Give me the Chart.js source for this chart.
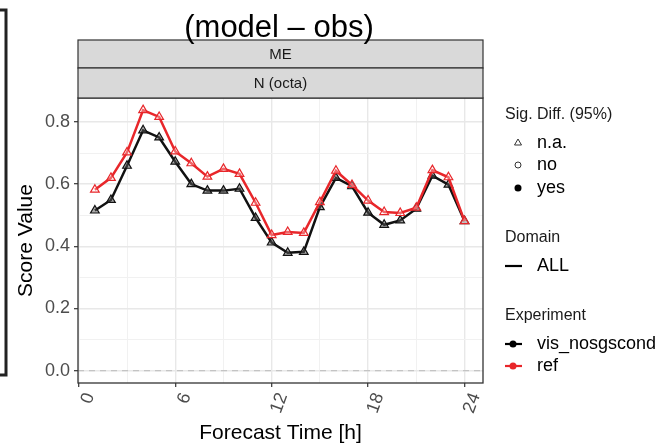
<!DOCTYPE html>
<html lang="en">
<head>
  <meta charset="UTF-8" />
  <title>ME N (octa) - model minus obs</title>
  <script src="https://cdn.jsdelivr.net/npm/chart.js"></script>
  <style>
    html, body { margin: 0; padding: 0; background: #fff; }
    #wrap { width: 661px; height: 446px; position: relative; }
  </style>
</head>
<body>
  <div id="wrap">
    <canvas id="scoreChart" width="661" height="446"></canvas>
  </div>

  <script>
    // forecast hours and scores
    const hours = [1, 2, 3, 4, 5, 6, 7, 8, 9, 10, 11, 12, 13, 14, 15, 16, 17, 18, 19, 20, 21, 22, 23, 24];
    const visNosgscond = [0.515, 0.549, 0.659, 0.773, 0.750, 0.672, 0.600, 0.579, 0.579, 0.585, 0.491, 0.412,
                          0.379, 0.382, 0.526, 0.620, 0.593, 0.508, 0.469, 0.483, 0.521, 0.627, 0.598, 0.481];
    const ref = [0.582, 0.620, 0.702, 0.838, 0.816, 0.705, 0.667, 0.624, 0.649, 0.633, 0.540, 0.436,
                 0.446, 0.443, 0.542, 0.643, 0.597, 0.547, 0.510, 0.507, 0.524, 0.645, 0.622, 0.481];

    const xTicks = [0, 3, 6, 9, 12, 15, 18, 21, 24];
    const xLabelTicks = [0, 6, 12, 18, 24];
    const yTicks = [0, 0.1, 0.2, 0.3, 0.4, 0.5, 0.6, 0.7, 0.8];
    const yLabelTicks = [0, 0.2, 0.4, 0.6, 0.8];

    const FONT = '"Liberation Sans", Arial, Helvetica, sans-serif';
    Chart.defaults.font.family = FONT;

    const isMajorX = v => xLabelTicks.includes(v);
    const isMajorY = v => yLabelTicks.some(t => Math.abs(t - v) < 1e-6);

    const decor = {
      id: 'decor',
      beforeDatasetsDraw(chart) {
        const { ctx, chartArea: ca, scales } = chart;
        const y0 = scales.y.getPixelForValue(0);
        ctx.save();
        ctx.strokeStyle = '#c4c4c4';
        ctx.lineWidth = 1.3;
        ctx.setLineDash([6, 5]);
        ctx.beginPath();
        ctx.moveTo(ca.left, y0);
        ctx.lineTo(ca.right, y0);
        ctx.stroke();
        ctx.restore();
      },
      afterDraw(chart) {
        const { ctx, chartArea: ca } = chart;
        ctx.save();

        // panel border
        ctx.strokeStyle = '#333';
        ctx.lineWidth = 1.3;
        ctx.strokeRect(ca.left, ca.top, ca.right - ca.left, ca.bottom - ca.top);

        // facet strips
        const strips = [['ME', 40, 68], ['N (octa)', 68, ca.top]];
        strips.forEach(([txt, t, b]) => {
          ctx.fillStyle = '#d9d9d9';
          ctx.fillRect(ca.left, t, ca.right - ca.left, b - t);
          ctx.strokeStyle = '#333';
          ctx.lineWidth = 1.2;
          ctx.strokeRect(ca.left, t, ca.right - ca.left, b - t);
          ctx.fillStyle = '#1a1a1a';
          ctx.font = '15px ' + FONT;
          ctx.textAlign = 'center';
          ctx.textBaseline = 'middle';
          ctx.fillText(txt, (ca.left + ca.right) / 2, (t + b) / 2 + 1);
        });

        // title
        ctx.fillStyle = '#000';
        ctx.font = '31px ' + FONT;
        ctx.textAlign = 'center';
        ctx.textBaseline = 'middle';
        ctx.fillText('(model \u2013 obs)', 279, 28);

        // frame edge of the neighbouring panel
        ctx.strokeStyle = '#222';
        ctx.lineWidth = 3;
        ctx.strokeRect(-10, 10, 16, 365);

        // legend
        const lx = 505, sx = 518, tx = 537;
        ctx.textAlign = 'left';
        ctx.fillStyle = '#1a1a1a';
        ctx.font = '16px ' + FONT;
        ctx.fillText('Sig. Diff. (95%)', lx, 115);
        ctx.fillText('Domain', lx, 238);
        ctx.fillText('Experiment', lx, 316);

        ctx.font = '18px ' + FONT;
        ctx.fillStyle = '#000';
        ctx.fillText('n.a.', tx, 143);
        ctx.fillText('no', tx, 165);
        ctx.fillText('yes', tx, 188);
        ctx.fillText('ALL', tx, 266);
        ctx.fillText('vis_nosgscond', tx, 344);
        ctx.fillText('ref', tx, 366);

        ctx.strokeStyle = '#333';
        ctx.lineWidth = 1;
        ctx.beginPath();
        ctx.moveTo(sx, 139); ctx.lineTo(sx + 3.5, 145); ctx.lineTo(sx - 3.5, 145); ctx.closePath();
        ctx.stroke();
        ctx.beginPath();
        ctx.arc(sx, 165, 3, 0, Math.PI * 2);
        ctx.stroke();
        ctx.fillStyle = '#000';
        ctx.beginPath();
        ctx.arc(sx, 188, 3.5, 0, Math.PI * 2);
        ctx.fill();

        ctx.lineWidth = 2.2;
        ctx.strokeStyle = '#000';
        ctx.beginPath(); ctx.moveTo(505, 266); ctx.lineTo(522, 266); ctx.stroke();

        [['#000', 344], ['#e8262a', 366]].forEach(([c, y]) => {
          ctx.strokeStyle = c;
          ctx.fillStyle = c;
          ctx.beginPath(); ctx.moveTo(505, y); ctx.lineTo(522, y); ctx.stroke();
          ctx.beginPath(); ctx.arc(513, y, 3.5, 0, Math.PI * 2); ctx.fill();
        });

        ctx.restore();
      }
    };

    const gridX = {
      color: ctx => isMajorX(ctx.tick.value) ? '#e8e8e8' : '#f1f1f1',
      lineWidth: ctx => isMajorX(ctx.tick.value) ? 1.4 : 1,
      tickColor: ctx => isMajorX(ctx.tick.value) ? '#333' : 'rgba(0,0,0,0)',
      tickLength: 4,
      tickWidth: 1.2
    };
    const gridY = {
      color: ctx => isMajorY(ctx.tick.value) ? '#e8e8e8' : '#f1f1f1',
      lineWidth: ctx => isMajorY(ctx.tick.value) ? 1.4 : 1,
      tickColor: ctx => isMajorY(ctx.tick.value) ? '#333' : 'rgba(0,0,0,0)',
      tickLength: 4,
      tickWidth: 1.2
    };

    new Chart(document.getElementById('scoreChart').getContext('2d'), {
      type: 'line',
      data: {
        datasets: [
          {
            label: 'vis_nosgscond',
            data: hours.map((h, i) => ({ x: h, y: visNosgscond[i] })),
            borderColor: '#111',
            borderWidth: 2.5,
            pointStyle: 'triangle',
            pointRadius: 5,
            pointBorderWidth: 1.2,
            pointBorderColor: '#111',
            pointBackgroundColor: 'rgba(90,90,90,0.5)',
            tension: 0,
            order: 1
          },
          {
            label: 'ref',
            data: hours.map((h, i) => ({ x: h, y: ref[i] })),
            borderColor: '#e8262a',
            borderWidth: 2.5,
            pointStyle: 'triangle',
            pointRadius: 5,
            pointBorderWidth: 1.2,
            pointBorderColor: '#e8262a',
            pointBackgroundColor: 'rgba(255,255,255,0.3)',
            tension: 0,
            order: 0
          }
        ]
      },
      options: {
        responsive: false,
        animation: false,
        events: [],
        layout: { padding: { top: 98, right: 178, left: 0, bottom: 0 } },
        plugins: { legend: { display: false }, tooltip: { enabled: false } },
        scales: {
          x: {
            type: 'linear',
            min: -0.05,
            max: 25.15,
            afterFit: s => { s.height = 63; },
            afterBuildTicks: s => { s.ticks = xTicks.map(v => ({ value: v })); },
            border: { display: false },
            grid: gridX,
            ticks: {
              autoSkip: false,
              minRotation: 70,
              maxRotation: 70,
              padding: 3,
              labelOffset: 11,
              color: '#4d4d4d',
              font: { size: 18 },
              callback: v => isMajorX(v) ? String(v) : ''
            },
            title: {
              display: true,
              text: 'Forecast Time [h]',
              color: '#000',
              font: { size: 21 },
              padding: { top: 0, bottom: 0 }
            }
          },
          y: {
            min: -0.04,
            max: 0.877,
            afterFit: s => { s.width = 78; },
            afterBuildTicks: s => { s.ticks = yTicks.map(v => ({ value: v })); },
            border: { display: false },
            grid: gridY,
            ticks: {
              autoSkip: false,
              padding: 4,
              color: '#4d4d4d',
              font: { size: 18 },
              callback: v => isMajorY(v) ? v.toFixed(1) : ''
            },
            title: {
              display: true,
              text: 'Score Value',
              color: '#000',
              font: { size: 21 },
              padding: { top: 14, bottom: 0 }
            }
          }
        }
      },
      plugins: [decor]
    });
  </script>
</body>
</html>
